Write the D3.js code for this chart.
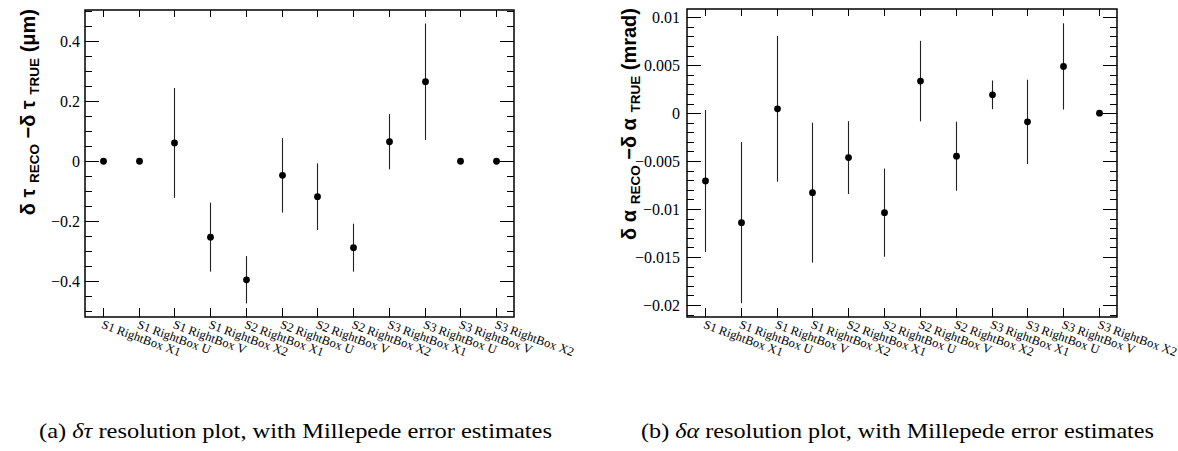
<!DOCTYPE html>
<html>
<head>
<meta charset="utf-8">
<script src="https://cdn.jsdelivr.net/npm/d3@7"></script>
<style>
  html, body { margin: 0; padding: 0; background: #fff; }
  svg { display: block; }
</style>
</head>
<body>
<svg id="chart" width="1178" height="451"></svg>
<script>
// ---------------- DATA ----------------
const categories = [
  "S1 RightBox X1", "S1 RightBox U", "S1 RightBox V", "S1 RightBox X2",
  "S2 RightBox X1", "S2 RightBox U", "S2 RightBox V", "S2 RightBox X2",
  "S3 RightBox X1", "S3 RightBox U", "S3 RightBox V", "S3 RightBox X2"
];
// panel (a): delta tau residuals (um) and Millepede errors
const tauValues = [0, 0, 0.061, -0.253, -0.395, -0.047, -0.118, -0.288, 0.065, 0.265, 0, 0];
const tauErrors = [0, 0, 0.183, 0.115, 0.079, 0.124, 0.111, 0.080, 0.092, 0.194, 0, 0];
const tauTicks = [-0.4, -0.2, 0, 0.2, 0.4];
const tauTickLabels = ["\u22120.4", "\u22120.2", "0", "0.2", "0.4"];

// panel (b): delta alpha residuals (mrad) and Millepede errors
const alphaValues = [-0.00707, -0.01142, 0.00045, -0.00829, -0.00463, -0.01038, 0.00334, -0.00449, 0.00191, -0.00091, 0.00487, 0];
const alphaErrors = [0.0074, 0.0084, 0.0076, 0.0073, 0.0038, 0.0046, 0.0042, 0.0036, 0.0015, 0.0044, 0.0045, 0];
const alphaTicks = [-0.02, -0.015, -0.01, -0.005, 0, 0.005, 0.01];
const alphaTickLabels = ["\u22120.02", "\u22120.015", "\u22120.01", "\u22120.005", "0", "0.005", "0.01"];

const captions = [
  {label: "(a) ", sym: "\u03B4\u03C4", rest: " resolution plot, with Millepede error estimates"},
  {label: "(b) ", sym: "\u03B4\u03B1", rest: " resolution plot, with Millepede error estimates"}
];

// ---------------- DRAW ----------------
const SERIF = "'Liberation Serif', 'Times New Roman', Times, serif";
const SANS = "'Liberation Sans', Arial, Helvetica, sans-serif";
const svg = d3.select("#chart");

function panel(cfg) {
  const g = svg.append("g");
  const x = d3.scaleBand().domain(categories).range([cfg.x0, cfg.x1]);
  const y = d3.scaleLinear().domain(cfg.domain).range([cfg.y1, cfg.y0]);
  const cx = d => x(d) + x.bandwidth() / 2;

  // minor y ticks
  const minor = d3.range(cfg.minorStart, cfg.domain[1] + 1e-9, cfg.minorStep)
    .filter(v => v >= cfg.domain[0] && v <= cfg.domain[1]);
  const majorSet = cfg.ticks.map(t => t.toFixed(6));
  const minorOnly = minor.filter(v => !majorSet.includes(v.toFixed(6)));

  const tickG = g.append("g").attr("stroke", "#000").attr("stroke-width", 1);
  minorOnly.forEach(v => {
    const yy = Math.round(y(v)) + 0.5;
    tickG.append("line").attr("x1", cfg.x0).attr("x2", cfg.x0 + 7).attr("y1", yy).attr("y2", yy);
    tickG.append("line").attr("x1", cfg.x1 - 7).attr("x2", cfg.x1).attr("y1", yy).attr("y2", yy);
  });
  cfg.ticks.forEach(v => {
    const yy = Math.round(y(v)) + 0.5;
    tickG.append("line").attr("x1", cfg.x0).attr("x2", cfg.x0 + 14).attr("y1", yy).attr("y2", yy);
    tickG.append("line").attr("x1", cfg.x1 - 14).attr("x2", cfg.x1).attr("y1", yy).attr("y2", yy);
  });
  categories.forEach(c => {
    const xx = Math.round(cx(c)) + 0.5;
    tickG.append("line").attr("x1", xx).attr("x2", xx).attr("y1", cfg.y1).attr("y2", cfg.y1 - 9);
    tickG.append("line").attr("x1", xx).attr("x2", xx).attr("y1", cfg.y0).attr("y2", cfg.y0 + 7);
  });

  // y tick labels
  g.append("g").selectAll("text").data(cfg.ticks).join("text")
    .attr("x", cfg.x0 - cfg.labelGap)
    .attr("y", d => y(d))
    .attr("dy", "0.35em")
    .attr("text-anchor", "end")
    .style("font-family", SERIF)
    .style("font-size", "16px")
    .text((d, i) => cfg.tickLabels[i]);

  // x tick labels (rotated)
  g.append("g").selectAll("text").data(categories).join("text")
    .attr("transform", d => `translate(${cx(d) + 1},${cfg.y1 + 2}) rotate(20)`)
    .attr("dy", "0.75em")
    .attr("text-anchor", "start")
    .style("font-family", SERIF)
    .style("font-size", "12.5px")
    .text(d => d);

  // error bars
  const pts = categories.map((c, i) => ({c, v: cfg.values[i], e: cfg.errors[i]}));
  g.append("g").selectAll("line").data(pts.filter(p => p.e > 0)).join("line")
    .attr("x1", d => Math.round(cx(d.c)) + 0.5)
    .attr("x2", d => Math.round(cx(d.c)) + 0.5)
    .attr("y1", d => y(d.v + d.e))
    .attr("y2", d => y(d.v - d.e))
    .attr("stroke", "#222")
    .attr("stroke-width", 1.1);
  // markers
  g.append("g").selectAll("circle").data(pts).join("circle")
    .attr("cx", d => Math.round(cx(d.c)) + 0.5)
    .attr("cy", d => y(d.v))
    .attr("r", 3.4)
    .attr("fill", "#000");

  // frame
  g.append("rect")
    .attr("x", cfg.x0).attr("y", cfg.y0)
    .attr("width", cfg.x1 - cfg.x0).attr("height", cfg.y1 - cfg.y0)
    .attr("fill", "none").attr("stroke", "#000").attr("stroke-width", 1.5);

  // y title
  const t = g.append("text")
    .attr("transform", `translate(${cfg.titleX},${cfg.y0 - 1}) rotate(-90)`)
    .attr("text-anchor", "end")
    .style("font-family", SANS)
    .style("font-weight", "bold")
    .style("font-size", "20px");
  cfg.title.forEach(part => {
    const ts = t.append("tspan").text(part.t);
    if (part.sub) ts.style("font-size", "13.5px").attr("dy", 4);
    else if (part.up) ts.attr("dy", -4);
  });

  // caption
  const cap = svg.append("text")
    .attr("x", cfg.capX).attr("y", 438)
    .attr("textLength", 513)
    .attr("lengthAdjust", "spacingAndGlyphs")
    .style("font-family", SERIF)
    .style("font-size", "22px");
  cap.append("tspan").text(cfg.caption.label);
  cap.append("tspan").style("font-style", "italic").text(cfg.caption.sym);
  cap.append("tspan").text(cfg.caption.rest);
}

panel({
  x0: 85, x1: 514, y0: 10, y1: 317,
  domain: [-0.519, 0.504],
  ticks: tauTicks, tickLabels: tauTickLabels,
  minorStart: -0.5, minorStep: 0.05,
  values: tauValues, errors: tauErrors,
  labelGap: 5, titleX: 35,
  title: [
    {t: "\u03B4 \u03C4 "}, {t: "RECO", sub: true}, {t: " \u2212\u03B4 \u03C4 ", up: true},
    {t: "TRUE", sub: true}, {t: " (\u03BCm)", up: true}
  ],
  caption: captions[0], capX: 39
});

panel({
  x0: 687, x1: 1117, y0: 9, y1: 317,
  domain: [-0.02126, 0.01086],
  ticks: alphaTicks, tickLabels: alphaTickLabels,
  minorStart: -0.021, minorStep: 0.001,
  values: alphaValues, errors: alphaErrors,
  labelGap: 7, titleX: 636,
  title: [
    {t: "\u03B4 \u03B1 "}, {t: "RECO", sub: true}, {t: " \u2212\u03B4 \u03B1 ", up: true},
    {t: "TRUE", sub: true}, {t: " (mrad)", up: true}
  ],
  caption: captions[1], capX: 641
});
</script>
</body>
</html>
